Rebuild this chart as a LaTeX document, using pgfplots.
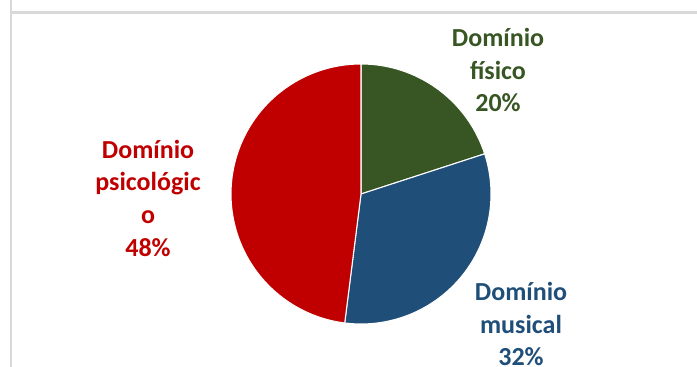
\documentclass[border=0pt]{standalone}
\usepackage{pgfplots}
\usepackage{pgfplotstable}
\pgfplotsset{compat=1.18}
\usepackage{fontspec}
\setmainfont{Carlito}
\definecolor{cgreen}{HTML}{375623}
\definecolor{cblue}{HTML}{1F4E79}
\definecolor{cred}{HTML}{C00000}
\definecolor{cframe}{HTML}{D9D9D9}
\pgfplotstableread{
share
20
32
48
}\piedata
\pgfplotstablegetelem{0}{share}\of\piedata \let\va\pgfplotsretval
\pgfplotstablegetelem{1}{share}\of\piedata \let\vb\pgfplotsretval
\pgfplotstablegetelem{2}{share}\of\piedata \let\vc\pgfplotsretval
\pgfmathsetmacro{\aA}{90}
\pgfmathsetmacro{\aB}{90-3.6*\va}
\pgfmathsetmacro{\aC}{\aB-3.6*\vb}
\pgfmathsetmacro{\aD}{\aC-3.6*\vc}
\begin{document}
\begin{tikzpicture}
\begin{axis}[
  x=0.75pt, y=0.75pt,
  xmin=0, xmax=697, ymin=0, ymax=367,
  hide axis, clip=false, anchor=origin, at={(0,0)},
  scale only axis,
]
\draw[cframe, line width=1.6pt] (axis cs:11,367) -- (axis cs:11,354.5) -- (axis cs:697,354.5);
\draw[cframe, line width=1.6pt] (axis cs:11,354.5) -- (axis cs:11,0);
\addplot[fill=cgreen, draw=white, line width=0.8pt, domain=\aB:\aA, samples=60, variable=\t]
  ({361+130*cos(\t)},{173+130*sin(\t)}) -- (axis cs:361,173) -- cycle;
\addplot[fill=cblue, draw=white, line width=0.8pt, domain=\aC:\aB, samples=80, variable=\t]
  ({361+130*cos(\t)},{173+130*sin(\t)}) -- (axis cs:361,173) -- cycle;
\addplot[fill=cred, draw=white, line width=0.8pt, domain=\aD:\aC, samples=100, variable=\t]
  ({361+130*cos(\t)},{173+130*sin(\t)}) -- (axis cs:361,173) -- cycle;
\node[align=center, text=cgreen, font=\fontsize{19.5}{24.5}\selectfont\bfseries] at (axis cs:498,297) {Domínio\\físico\\\va\%};
\node[align=center, text=cblue, font=\fontsize{19.5}{24.5}\selectfont\bfseries] at (axis cs:521,43) {Domínio\\musical\\\vb\%};
\node[align=center, text=cred, font=\fontsize{19.5}{24.5}\selectfont\bfseries] at (axis cs:148,169) {Domínio\\psicológic\\o\\\vc\%};
\end{axis}
\pgfresetboundingbox
\path (0,0) rectangle (522.75pt,275.25pt);
\end{tikzpicture}
\end{document}
